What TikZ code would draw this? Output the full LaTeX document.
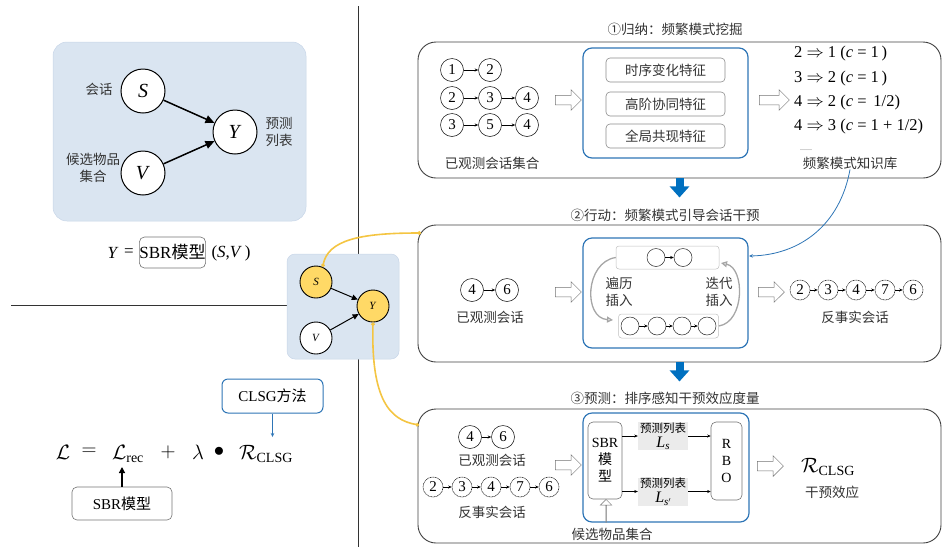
\documentclass[tikz,border=0pt]{standalone}
\usepackage{amsmath}
\usepackage{fontspec}
\setmainfont{Liberation Serif}
\newfontfamily\cjk{Noto Sans CJK SC}
\usetikzlibrary{arrows.meta,shapes.arrows}
\definecolor{lblue}{HTML}{DAE5F1}
\definecolor{lblueb}{HTML}{C8D6E8}
\definecolor{bbox}{HTML}{2E75B6}
\definecolor{barrow}{HTML}{0070C0}
\definecolor{yel}{HTML}{FFD966}
\definecolor{yline}{HTML}{F4C542}
\definecolor{tgray}{HTML}{333333}
\begin{document}
\begin{tikzpicture}[x=1pt,y=-1pt,
 txt/.style={font=\cjk\fontsize{13.5}{16}\selectfont, text=tgray, inner sep=0pt},
 lbl/.style={font=\cjk\fontsize{13.5}{17}\selectfont, text=tgray, inner sep=0pt, align=center},
 ttl/.style={font=\cjk\fontsize{13.5}{16}\selectfont, text=tgray, inner sep=0pt},
 bgpanel/.style={fill=lblue, draw=lblueb, line width=0.5pt, rounded corners=14pt, inner sep=0pt},
 bignode/.style={circle, draw, line width=1pt, fill=white, minimum size=44pt, inner sep=0pt, font=\fontsize{20}{20}\selectfont},
 midnode/.style={circle, draw, line width=0.9pt, fill=white, minimum size=32pt, inner sep=0pt, font=\fontsize{11}{11}\selectfont},
 thickarr/.style={-{Triangle[length=9pt,width=8pt]}, line width=1.5pt},
 midarr/.style={-{Triangle[length=6pt,width=5.5pt]}, line width=1pt},
 divline/.style={draw=black!80, line width=0.9pt},
 graybox/.style={draw=black!55, line width=0.6pt, rounded corners=5pt, inner sep=0pt},
 blueboxs/.style={draw=bbox, line width=1pt, rounded corners=6pt, inner sep=0pt},
 ftxt/.style={font=\fontsize{17}{17}\selectfont, inner sep=0pt},
 ff/.style={font=\fontsize{20}{24}\selectfont, inner sep=0pt},
 panel/.style={draw=black!75, line width=0.9pt, rounded corners=18pt, minimum width=523pt, inner sep=0pt},
 bluebox/.style={draw=bbox, line width=1.2pt, rounded corners=9pt, inner sep=0pt},
 featbox/.style={draw=black!45, line width=0.6pt, rounded corners=4pt, minimum width=119pt, minimum height=24pt, inner sep=0pt, font=\cjk\fontsize{13.5}{16}\selectfont, text=tgray},
 num/.style={circle, draw=black!85, line width=0.6pt, minimum size=23pt, inner sep=0pt, font=\fontsize{15}{15}\selectfont},
 dnum/.style={circle, draw=black!85, line width=0.6pt, dash pattern=on 1pt off 0.6pt, minimum size=20pt, inner sep=0pt, font=\fontsize{15}{15}\selectfont},
 snum/.style={circle, draw=black!85, line width=0.5pt, minimum size=18pt, inner sep=0pt},
 chainarr/.style={-{Stealth[length=3.5pt,width=3pt]}, line width=0.6pt},
 hollow/.style={single arrow, draw=black!55, fill=white, line width=0.5pt, minimum height=26pt, inner xsep=0pt, inner ysep=4.5pt, single arrow head extend=5.5pt},
 lightbox/.style={draw=black!25, line width=0.5pt, rounded corners=3pt, inner sep=0pt},
 arcarr/.style={draw=black!35, line width=1.3pt, -{Triangle[open, length=6pt, width=6pt]}},
 bigblue/.style={draw=barrow, line width=8pt, -{Triangle[length=11pt,width=19pt]}},
 bluecurve/.style={draw=bbox, line width=0.8pt, -{Stealth[length=4pt,width=3.5pt]}},
 ycurve/.style={draw=yline, line width=1.6pt, {Circle[length=3.5pt]}-{Circle[length=3.5pt]}},
 rule/.style={font=\fontsize{16.5}{16.5}\selectfont, inner sep=0pt, anchor=west},
 lsbox/.style={fill=black!8, inner sep=0pt, minimum width=50pt, minimum height=28pt, align=center, font=\fontsize{11.5}{15}\selectfont},
 tallbox/.style={draw=black!55, line width=0.6pt, rounded corners=5pt, inner sep=0pt, align=center, font=\fontsize{14}{17}\selectfont}
]
\useasboundingbox (0,0) rectangle (944,547);

% dividing lines
\draw[divline] (358,6) -- (358,547);
\draw[divline] (11,305) -- (287,305);

% ---------- top-left causal graph ----------
\node[bgpanel, minimum width=253pt, minimum height=179pt] (tlp) at (179.5,131.5) {};
\node[bignode] (S) at (143,91) {\textit{S}};
\node[bignode] (Y) at (235,132) {\textit{Y}};
\node[bignode] (V) at (143,173) {\textit{V}};
\draw[thickarr] (S) -- (Y);
\draw[thickarr] (V) -- (Y);
\node[lbl] (lS) at (99,89) {会话};
\node[lbl] (lY) at (279,132) {预测\\列表};
\node[lbl] (lV) at (93,168) {候选物品\\集合};

\node[ftxt] (fy) at (113,253) {\textit{Y}};
\node[ftxt] (feq) at (129,253) {=};
\node[graybox, ftxt, minimum width=65pt, minimum height=31pt] (fsbr) at (172.5,252.5) {SBR{\cjk 模型}};
\node[ftxt] (fsv) at (231,253) {(\textit{S},\textit{V}\,)};

% ---------- middle small graph ----------
\node[bgpanel, rounded corners=8pt, minimum width=112pt, minimum height=105pt] (mp) at (343,306.5) {};
\node[midnode, fill=yel] (mS) at (316,282) {\textit{S}};
\node[midnode, fill=yel] (mY) at (373,306) {\textit{Y}};
\node[midnode] (mV) at (316,338) {\textit{V}};
\draw[midarr] (mS) -- (mY);
\draw[midarr] (mV) -- (mY);

% ---------- bottom-left loss ----------
\node[ff] (fL) at (63,452) {$\mathcal{L}$};
\node[ff] (feq2) at (89,452) {$=$};
\node[ff] (fLrec) at (128,454) {$\mathcal{L}_{\text{rec}}$};
\node[ff] (fplus) at (168,452) {$+$};
\node[ff] (flam) at (198,452) {$\lambda$};
\node[ff] (fdot) at (219,452) {$\bullet$};
\node[ff] (fR) at (266,454) {$\mathcal{R}_{\text{CLSG}}$};
\node[graybox, font=\fontsize{15}{15}\selectfont, minimum width=100pt, minimum height=33pt] (sbrb) at (122,503.5) {SBR{\cjk 模型}};
\node[blueboxs, font=\fontsize{15}{15}\selectfont, minimum width=101pt, minimum height=34pt] (clsgb) at (272.5,396) {CLSG{\cjk 方法}};
\coordinate (lrecend) at (122,467);
\coordinate (rend) at (272.5,437);
\draw[-{Triangle[length=6pt,width=6pt]}, line width=1.3pt] (sbrb.north) -- (lrecend);
\draw[bluecurve] (clsgb.south) -- (rend);

% ---------- panel 1 ----------
\node[panel, minimum height=136pt] (p1) at (679.5,110) {};
\node[ttl] (t1) at (675,29) {①归纳：频繁模式挖掘};
\node[num] (a1) at (452,70) {1};
\node[num] (a2) at (490,70) {2};
\node[num] (b1) at (452,98) {2};
\node[num] (b2) at (490,98) {3};
\node[num] (b3) at (527,98) {4};
\node[num] (c1) at (452,125) {3};
\node[num] (c2) at (490,125) {5};
\node[num] (c3) at (527,125) {4};
\draw[chainarr] (a1) -- (a2);
\draw[chainarr] (b1) -- (b2);
\draw[chainarr] (b2) -- (b3);
\draw[chainarr] (c1) -- (c2);
\draw[chainarr] (c2) -- (c3);
\node[txt] (obs1) at (492,163) {已观测会话集合};
\node[hollow] (h1) at (566,100) {};
\node[bluebox, minimum width=165pt, minimum height=110pt] (bb1) at (665.5,103) {};
\node[featbox] (f1) at (665.5,70) {时序变化特征};
\node[featbox] (f2) at (665.5,104) {高阶协同特征};
\node[featbox] (f3) at (665.5,136) {全局共现特征};
\node[hollow, minimum height=30pt] (h2) at (772,100) {};
\node[rule] (r1) at (794,54) {2 $\Rightarrow$ 1 (\textit{c} = 1\,)};
\node[rule] (r2) at (794,79) {3 $\Rightarrow$ 2 (\textit{c} = 1\,)};
\node[rule] (r3) at (794,103) {4 $\Rightarrow$ 2 (\textit{c} =\, 1/2)};
\node[rule] (r4) at (794,127) {4 $\Rightarrow$ 3 (\textit{c} = 1 + 1/2)};
\node[font=\fontsize{8}{8}\selectfont, text=black!60, inner sep=0pt] (r5) at (806,150) {......};
\node[txt] (kb) at (850,163) {频繁模式知识库};

% ---------- panel 2 ----------
\node[panel, minimum height=137pt] (p2) at (679.5,293.5) {};
\node[ttl] (t2) at (665,215) {②行动：频繁模式引导会话干预};
\draw[bigblue] (p1.south) -- ++(0,19);
\node[num] (d1) at (472,290) {4};
\node[num] (d2) at (507,290) {6};
\draw[chainarr] (d1) -- (d2);
\node[txt] (obs2) at (490,317) {已观测会话};
\node[hollow] (h3) at (566,292) {};
\node[bluebox, minimum width=165pt, minimum height=110pt] (bb2) at (665.5,293) {};
\node[lightbox, minimum width=103pt, minimum height=23pt] (tb) at (667.5,257.5) {};
\node[snum] (tc1) at (656,257.5) {};
\node[snum] (tc2) at (683,257.5) {};
\draw[chainarr] (tc1) -- (tc2);
\node[lightbox, minimum width=100pt, minimum height=24pt] (bx) at (668.5,326) {};
\node[snum] (bc1) at (630,326) {};
\node[snum] (bc2) at (657,326) {};
\node[snum] (bc3) at (682,326) {};
\node[snum] (bc4) at (707,326) {};
\draw[chainarr] (bc1) -- (bc2);
\draw[chainarr] (bc2) -- (bc3);
\draw[chainarr] (bc3) -- (bc4);
\coordinate (la) at (613,320);
\coordinate (ra) at (721,263);
\draw[arcarr] (tb.west) .. controls (585,262) and (583,318) .. (la);
\draw[arcarr] (bx.east) .. controls (745,322) and (745,268) .. (ra);
\node[lbl] (trav) at (619,292) {遍历\\插入};
\node[lbl] (iter) at (719,292) {迭代\\插入};
\node[hollow] (h4) at (769,292) {};
\node[dnum] (e1) at (800,290) {2};
\node[dnum] (e2) at (828,290) {3};
\node[dnum] (e3) at (856,290) {4};
\node[dnum] (e4) at (885,290) {7};
\node[dnum] (e5) at (913,290) {6};
\draw[chainarr] (e1) -- (e2);
\draw[chainarr] (e2) -- (e3);
\draw[chainarr] (e3) -- (e4);
\draw[chainarr] (e4) -- (e5);
\node[txt] (cf2) at (855,317) {反事实会话};
\coordinate (kbend) at (749,256);
\draw[bluecurve] (kb.south) .. controls (840,225) and (800,255) .. (kbend);

% ---------- panel 3 ----------
\node[panel, minimum height=134pt] (p3) at (679.5,476) {};
\node[ttl] (t3) at (665,398) {③预测：排序感知干预效应度量};
\draw[bigblue] (p2.south) -- ++(0,19);
\node[num] (g1) at (470,437) {4};
\node[num] (g2) at (503,437) {6};
\draw[chainarr] (g1) -- (g2);
\node[txt] (obs3) at (492,460) {已观测会话};
\node[dnum] (k1) at (433,487) {2};
\node[dnum] (k2) at (462,487) {3};
\node[dnum] (k3) at (491,487) {4};
\node[dnum] (k4) at (520,487) {7};
\node[dnum] (k5) at (549,487) {6};
\draw[chainarr] (k1) -- (k2);
\draw[chainarr] (k2) -- (k3);
\draw[chainarr] (k3) -- (k4);
\draw[chainarr] (k4) -- (k5);
\node[txt] (cf3) at (492,512) {反事实会话};
\node[hollow] (h5) at (566,465) {};
\node[bluebox, minimum width=166pt, minimum height=109pt] (bb3) at (666,467.5) {};
\node[tallbox, minimum width=34pt, minimum height=77pt] (sbr3) at (605,460.5) {SBR\\{\cjk 模}\\{\cjk 型}};
\node[lsbox] (ls1) at (663,436) {{\cjk 预测列表}\\{\fontsize{16}{16}\selectfont\textit{L}\raisebox{-2.5pt}{\fontsize{11}{11}\selectfont\textit{s}}}};
\node[lsbox] (ls2) at (663,491.5) {{\cjk 预测列表}\\{\fontsize{16}{16}\selectfont\textit{L}\raisebox{-2.5pt}{\fontsize{11}{11}\selectfont\textit{s}\raisebox{3pt}{\fontsize{7}{7}\selectfont$\prime$}}}};
\node[tallbox, minimum width=31pt, minimum height=78pt] (rbo) at (726.5,461) {R\\B\\O};
\draw[chainarr] (sbr3.east |- ls1.west) -- (ls1.west);
\draw[chainarr] (sbr3.east |- ls2.west) -- (ls2.west);
\draw[chainarr] (ls1.east) -- (rbo.west |- ls1.east);
\draw[chainarr] (ls2.east) -- (rbo.west |- ls2.east);
\node[hollow, shape border rotate=90, minimum height=23pt] (h6) at (606,511) {};
\node[txt] (cand) at (612,534) {候选物品集合};
\node[hollow] (h7) at (768,466) {};
\node[ff] (rc) at (828,467) {$\mathcal{R}_{\text{CLSG}}$};
\node[txt] (eff) at (832,492) {干预效应};

% ---------- yellow links ----------
\coordinate (y2end) at (421,233);
\coordinate (y3end) at (419,425);
\draw[ycurve] (mS.66) .. controls (328,240) and (360,233) .. (y2end);
\draw[ycurve] (mY.south) .. controls (371,400) and (390,420) .. (y3end);
\end{tikzpicture}
\end{document}
